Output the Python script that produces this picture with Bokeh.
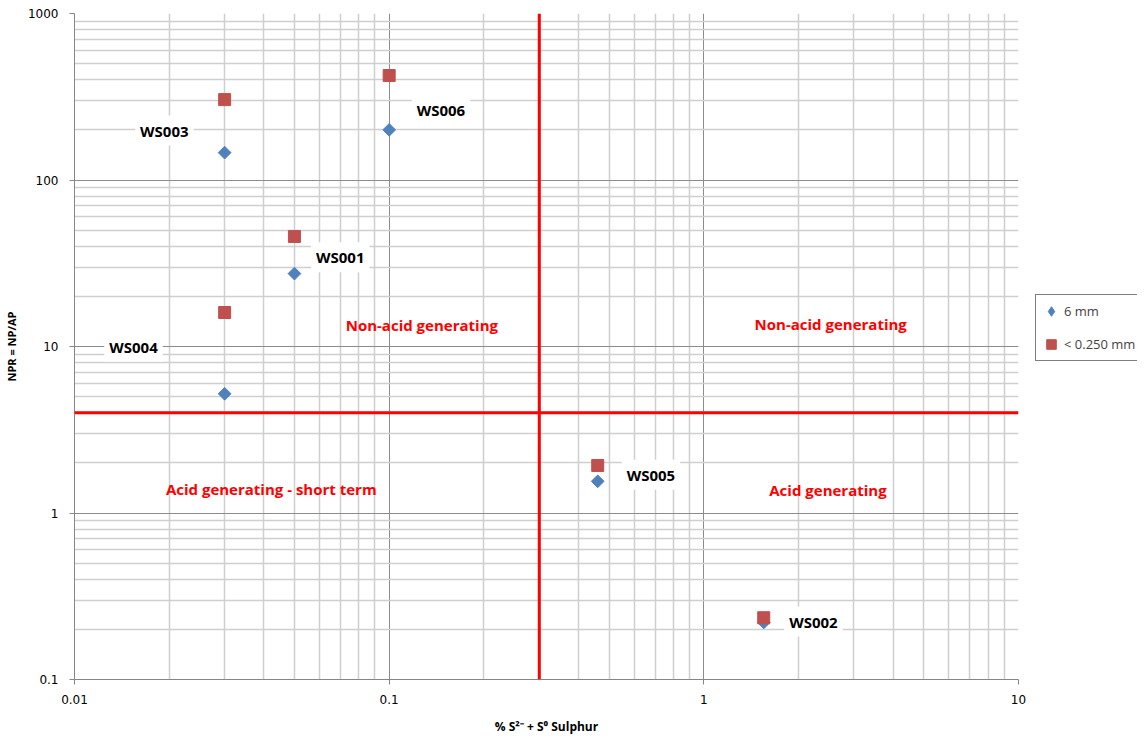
import math
from bokeh.plotting import figure
from bokeh.layouts import row
from bokeh.models import Range1d, FixedTicker, Span, Legend, LegendItem, ColumnDataSource
from bokeh.core.properties import value
from bokeh.embed import file_html
from bokeh.resources import INLINE

# ---- data ----
samples = ["WS001", "WS002", "WS003", "WS004", "WS005", "WS006"]
sulphur = [0.05, 1.55, 0.03, 0.03, 0.46, 0.10]          # % S2- + S0
npr_6mm = [27.4, 0.22, 146.0, 5.2, 1.55, 200.0]         # 6 mm
npr_fine = [45.8, 0.235, 304.0, 16.0, 1.93, 424.0]      # < 0.250 mm

series_names = ["6 mm", "< 0.250 mm"]
series_colors = ["#4f81bd", "#c0504d"]

x_ticks = [0.01, 0.1, 1, 10]
x_tick_labels = ["0.01", "0.1", "1", "10"]
y_ticks = [0.1, 1, 10, 100, 1000]
y_tick_labels = ["0.1", "1", "10", "100", "1000"]

threshold_sulphur = 0.3
threshold_npr = 4

region_texts = ["Non-acid generating", "Non-acid generating",
                "Acid generating - short term", "Acid generating"]

# annotation placement (data coordinates)
label_x = [0.0699, 2.23, 0.0193, 0.0154, 0.679, 0.146]
label_y = [34.3, 0.223, 198.0, 10.0, 1.70, 265.0]
region_x = [0.127, 2.53, 0.0422, 2.48]
region_y = [13.4, 13.7, 1.40, 1.38]

def minor_list(lo_exp, hi_exp):
    return [m * 10.0 ** e for e in range(lo_exp, hi_exp) for m in range(2, 10)]

p = figure(width=1028, height=739, x_axis_type="log", y_axis_type="log",
           x_range=Range1d(0.01, 10), y_range=Range1d(0.1, 1000),
           output_backend="svg", toolbar_location=None,
           min_border_left=73, min_border_right=10,
           min_border_top=13, min_border_bottom=60)
p.outline_line_color = None
p.background_fill_color = "white"

p.xaxis.ticker = FixedTicker(ticks=x_ticks, minor_ticks=minor_list(-2, 1))
p.yaxis.ticker = FixedTicker(ticks=y_ticks, minor_ticks=minor_list(-1, 3))
p.xaxis.major_label_overrides = {t: l for t, l in zip(x_ticks, x_tick_labels)}
p.yaxis.major_label_overrides = {t: l for t, l in zip(y_ticks, y_tick_labels)}

for ax in (p.xaxis, p.yaxis):
    ax.axis_line_color = "#868686"
    ax.major_tick_line_color = "#868686"
    ax.minor_tick_line_color = None
    ax.major_tick_in = 0
    ax.major_tick_out = 5
    ax.major_label_text_font = "DejaVu Sans"
    ax.major_label_text_font_size = "12px"
    ax.major_label_text_color = "black"
    ax.axis_label_text_font = "Open Sans"
    ax.axis_label_text_font_style = "bold"
    ax.axis_label_text_color = "black"

p.xaxis.major_label_standoff = 10
p.yaxis.major_label_standoff = 11
p.xaxis.axis_label = "% S\u00b2\u207b + S\u2070 Sulphur"
p.yaxis.axis_label = "NPR = NP/AP"
p.xaxis.axis_label_text_font_size = "12px"
p.yaxis.axis_label_text_font_size = "11px"
p.xaxis.axis_label_standoff = 11
p.yaxis.axis_label_standoff = 6

for g in (p.xgrid, p.ygrid):
    g.grid_line_color = "#8c8c8c"
    g.grid_line_width = 1
    g.minor_grid_line_color = "#cfcfcf"
    g.minor_grid_line_width = 1.5

p.add_layout(Span(location=threshold_sulphur, dimension="height",
                  line_color="#ff0000", line_width=3))
p.add_layout(Span(location=threshold_npr, dimension="width",
                  line_color="#ff0000", line_width=3))

src = ColumnDataSource(dict(x=sulphur, y6=npr_6mm, yf=npr_fine, name=samples,
                            lx=label_x, ly=label_y))

p.scatter("x", "y6", source=src, marker="square", angle=math.pi / 4,
          size=9, fill_color=series_colors[0], line_color=series_colors[0])
p.scatter("x", "yf", source=src, marker="square", size=12,
          fill_color=series_colors[1], line_color=series_colors[1])

p.text("lx", "ly", text="name", source=src, text_align="center",
       text_baseline="middle", text_font=value("Open Sans"),
       text_font_style="bold", text_font_size="15px", text_color="black",
       background_fill_color="white", padding=5)

rsrc = ColumnDataSource(dict(x=region_x, y=region_y, t=region_texts))
p.text("x", "y", text="t", source=rsrc, text_align="center",
       text_baseline="middle", text_font=value("Open Sans"),
       text_font_style="bold", text_font_size="15px", text_color="#ff0000")

# ---- legend panel (to the right of the plot area) ----
lf = figure(width=109, height=739, output_backend="svg", toolbar_location=None,
            x_range=Range1d(0, 1), y_range=Range1d(0, 1),
            min_border=0, min_border_left=0, min_border_right=0,
            min_border_top=0, min_border_bottom=0)
lf.axis.visible = False
lf.grid.visible = False
lf.outline_line_color = None
# legend-swatch renderers: a single point kept outside the visible range
swatch = ColumnDataSource(dict(x=[-10], y=[-10]))
l6 = lf.scatter("x", "y", source=swatch, marker="diamond",
                fill_color=series_colors[0], line_color=series_colors[0])
lfine = lf.scatter("x", "y", source=swatch, marker="square",
                   fill_color=series_colors[1], line_color=series_colors[1])

legend = Legend(items=[LegendItem(label=series_names[0], renderers=[l6]),
                       LegendItem(label=series_names[1], renderers=[lfine])],
                location=(7, 318), margin=0, padding=3, spacing=7,
                glyph_width=24, glyph_height=26, label_height=26,
                label_standoff=1, label_text_font="Open Sans",
                label_text_font_size="13px", border_line_color="black",
                border_line_width=1, background_fill_color="white")
lf.add_layout(legend)

layout = row(p, lf, spacing=0)
open("out.html", "w").write(file_html(layout, INLINE))
